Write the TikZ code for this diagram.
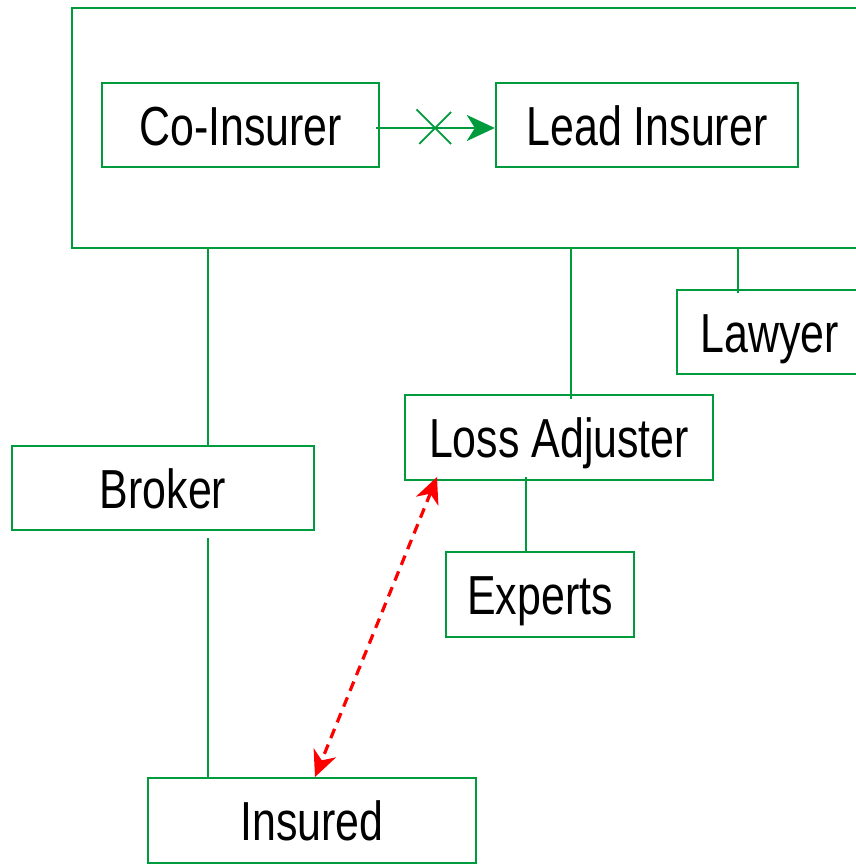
\documentclass[tikz,border=0pt]{standalone}
\usepackage{fontspec}
\setmainfont{Liberation Sans}[FakeStretch=0.78]
\usetikzlibrary{arrows.meta,shapes.misc}
\definecolor{grn}{RGB}{0,155,60}
\begin{document}
\begin{tikzpicture}[x=1pt,y=-1pt,
  box/.style={draw=grn, line width=2.3pt, inner sep=0pt, text height=40pt, text depth=0pt,
    font=\fontsize{55}{60}\selectfont, minimum height=84pt},
  conn/.style={draw=grn, line width=2.3pt},
  redarr/.style={draw=red, line width=3.2pt, dash pattern=on 10pt off 7pt,
    {Stealth[length=26pt,width=24pt,inset=8pt]}-{Stealth[length=26pt,width=24pt,inset=8pt]}}]
\useasboundingbox (0,0) rectangle (856,865);
\node[draw=grn, line width=2.3pt, minimum width=828pt, minimum height=240pt, inner sep=0pt] (group) at (486,128) {};
\node[box, minimum width=277pt] (coins) at (240.5,125) {Co-Insurer};
\node[box, minimum width=302pt] (lead) at (647,125) {Lead Insurer};
\node[box, minimum width=186pt] (lawyer) at (770,332) {Lawyer};
\node[box, minimum width=308pt, minimum height=85pt] (loss) at (559,437.5) {Loss Adjuster};
\node[box, minimum width=302pt] (broker) at (163,488) {Broker};
\node[box, minimum width=188pt, minimum height=85pt] (experts) at (540,594.5) {Experts};
\node[box, minimum width=328pt, minimum height=85pt] (insured) at (312,820.5) {Insured};
\draw[conn, shorten <=-4pt, -{Stealth[length=28pt,width=26pt,inset=8pt]}] ([yshift=-3pt]coins.east) -- node[pos=0.48, cross out, draw=grn, line width=1.8pt, minimum size=30pt, inner sep=0pt] (xmark) {} ([yshift=-3pt]lead.west);
\coordinate (bx) at (208,0);
\coordinate (lx) at (571,0);
\coordinate (wx) at (738,0);
\coordinate (ex) at (526,0);
\draw[conn] (group.south -| bx) -- (broker.north -| bx);
\draw[conn, shorten <=7pt] (broker.south -| bx) -- (insured.north -| bx);
\draw[conn, shorten >=-5pt] (group.south -| lx) -- (loss.north -| lx);
\draw[conn, shorten >=-4pt] (group.south -| wx) -- (lawyer.north -| wx);
\draw[conn, shorten <=-4pt] (loss.south -| ex) -- (experts.north -| ex);
\coordinate (r1) at (437,477);
\coordinate (r2) at (315,777);
\draw[redarr] (r1) -- (r2);
\end{tikzpicture}
\end{document}
